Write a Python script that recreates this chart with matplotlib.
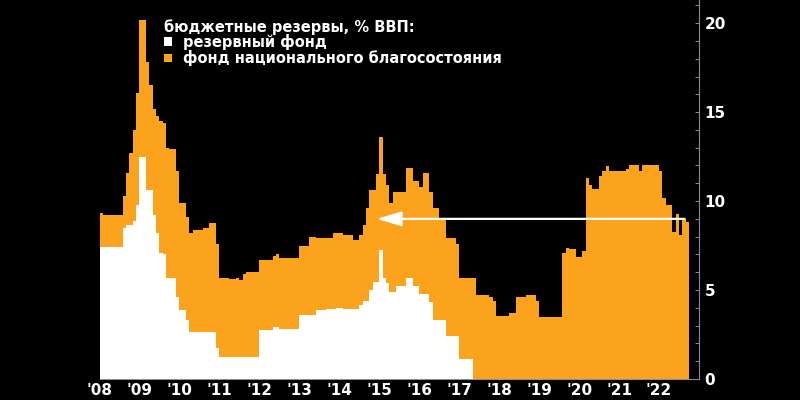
import numpy as np
import pandas as pd
import matplotlib
matplotlib.use("Agg")
import matplotlib.pyplot as plt
from matplotlib.patches import Rectangle
from matplotlib.ticker import MultipleLocator, FixedLocator

# monthly values, % of GDP, starting January 2008
START_MONTH = "2008-01"

# reserve fund + national wealth fund (total height of the stack)
total_reserves = [
    9.35, 9.2, 9.2, 9.2, 9.2, 9.2, 9.2, 10.3, 11.6, 12.7, 14.0, 16.1,        # 2008
    20.2, 20.2, 17.8, 16.5, 15.2, 14.8, 14.5, 14.4, 13.0, 12.9, 12.9, 11.7,  # 2009
    9.9, 9.9, 9.1, 8.2, 8.4, 8.4, 8.4, 8.5, 8.5, 8.75, 8.75, 7.6,            # 2010
    5.7, 5.7, 5.7, 5.6, 5.6, 5.65, 5.55, 5.9, 6.0, 6.0, 6.0, 6.0,            # 2011
    6.7, 6.7, 6.7, 6.7, 6.9, 7.0, 6.8, 6.8, 6.8, 6.8, 6.8, 6.8,              # 2012
    7.5, 7.5, 7.5, 8.0, 8.0, 7.9, 7.9, 7.9, 7.9, 7.9, 8.2, 8.2,              # 2013
    8.2, 8.1, 8.1, 8.1, 7.8, 7.8, 8.1, 8.65, 9.6, 10.6, 10.6, 11.5,          # 2014
    13.6, 11.5, 10.9, 9.9, 10.5, 10.5, 10.5, 10.5, 11.85, 11.85, 11.1, 11.1, # 2015
    10.8, 11.55, 11.55, 10.5, 9.6, 9.6, 9.0, 9.0, 7.9, 7.9, 7.9, 7.6,        # 2016
    5.7, 5.7, 5.7, 5.7, 5.7, 4.7, 4.7, 4.7, 4.7, 4.6, 4.4, 3.55,             # 2017
    3.55, 3.55, 3.55, 3.7, 3.7, 4.6, 4.6, 4.6, 4.7, 4.7, 4.7, 4.4,           # 2018
    3.5, 3.5, 3.5, 3.5, 3.5, 3.5, 3.5, 7.1, 7.35, 7.3, 7.3, 6.85,            # 2019
    6.85, 7.2, 11.3, 10.9, 10.7, 10.7, 11.4, 11.7, 11.95, 11.7, 11.7, 11.7,  # 2020
    11.7, 11.7, 11.8, 12.0, 12.0, 12.0, 11.7, 12.0, 12.0, 12.0, 12.0, 12.0,  # 2021
    11.7, 10.2, 9.8, 9.8, 8.25, 9.3, 8.1, 9.0, 8.85,                         # 2022
]

# reserve fund alone (white), until it was used up in 2017
reserve_fund = [
    7.4, 7.4, 7.4, 7.4, 7.4, 7.4, 7.4, 8.5, 8.65, 8.65, 8.9, 9.8,            # 2008
    12.5, 12.5, 10.6, 10.6, 9.2, 8.2, 7.1, 7.0, 5.7, 5.7, 5.7, 4.6,          # 2009
    3.9, 3.9, 3.3, 2.65, 2.65, 2.65, 2.65, 2.65, 2.65, 2.65, 2.65, 1.75,     # 2010
    1.25, 1.25, 1.25, 1.25, 1.25, 1.25, 1.25, 1.25, 1.25, 1.25, 1.25, 1.25,  # 2011
    2.75, 2.75, 2.75, 2.75, 2.9, 2.9, 2.8, 2.8, 2.8, 2.8, 2.8, 2.8,          # 2012
    3.6, 3.6, 3.6, 3.6, 3.6, 3.9, 3.9, 3.9, 3.95, 3.95, 3.95, 4.0,           # 2013
    4.0, 3.95, 3.95, 3.95, 3.95, 3.95, 4.15, 4.4, 4.4, 5.0, 5.45, 5.45,      # 2014
    7.25, 5.7, 5.4, 4.9, 4.9, 5.2, 5.2, 5.2, 5.7, 5.7, 5.2, 5.2,             # 2015
    4.8, 4.75, 4.75, 4.3, 3.3, 3.3, 3.3, 3.3, 2.4, 2.4, 2.4, 2.4,            # 2016
    1.1, 1.1, 1.1, 1.1,                                                      # 2017
]

# arrow showing that today's level equals the 2015 level
arrow_level = 9.0
arrow_from_year = 2022.64
arrow_to_year = 2014.94

year_ticks = list(range(2008, 2023))
year_labels = [f"'{y % 100:02d}" for y in year_ticks]
value_ticks = [0, 5, 10, 15, 20]

legend_title = "бюджетные резервы, % ВВП:"
legend_labels = ["резервный фонд", "фонд национального благосостояния"]

ORANGE = "#FBA31C"
WHITE = "#FFFFFF"
GREY = "#8C8C8C"


def month_edges(values):
    '''
    Returns decimal-year edges of monthly steps, one more than values.
    '''
    dates = pd.date_range(START_MONTH, periods=len(values) + 1, freq="MS")
    return dates.year + (dates.month - 1) / 12


def plot_reserves(ax):
    '''
    Draws the stacked step areas and the arrow.
    '''

    # 1: Total reserves in orange, reserve fund in white on top
    x_total = month_edges(total_reserves)
    ax.fill_between(x_total, list(total_reserves) + [total_reserves[-1]],
                    step="post", color=ORANGE, linewidth=0, zorder=2)

    x_rf = month_edges(reserve_fund)
    ax.fill_between(x_rf, list(reserve_fund) + [reserve_fund[-1]],
                    step="post", color=WHITE, linewidth=0, zorder=3)

    # 2: Arrow back to 2015
    ax.annotate(
        "",
        xy=(arrow_to_year, arrow_level),
        xytext=(arrow_from_year, arrow_level),
        arrowprops=dict(arrowstyle="-|>,head_length=1.5,head_width=0.45",
                        mutation_scale=10, color=WHITE, lw=1.6,
                        shrinkA=0, shrinkB=0),
        zorder=5,
    )


def style_axes(ax):
    '''
    Black background, right hand value axis, short year labels.
    '''
    ax.set_facecolor("black")
    ax.set_xlim(2008.0, 2023.0)
    ax.set_ylim(0, 21.3)

    for side in ["top", "left"]:
        ax.spines[side].set_visible(False)
    for side in ["right", "bottom"]:
        ax.spines[side].set_color(GREY)
        ax.spines[side].set_linewidth(0.8)
        ax.spines[side].set_zorder(1)

    ax.yaxis.tick_right()
    ax.yaxis.set_major_locator(FixedLocator(value_ticks))
    ax.yaxis.set_minor_locator(MultipleLocator(1))
    ax.tick_params(axis="y", which="both", direction="in", length=3,
                   width=0.7, color=GREY, labelcolor="white", labelsize=11,
                   pad=4)
    for label in ax.get_yticklabels():
        label.set_fontweight("bold")

    ax.set_xticks(year_ticks)
    ax.set_xticklabels(year_labels, fontweight="bold")
    ax.tick_params(axis="x", direction="in", length=3, width=0.6,
                   color="#DDDDDD", labelcolor="white", labelsize=11, pad=3)
    for tick in ax.xaxis.get_major_ticks():
        tick.tick1line.set_zorder(4)


def add_legend(fig):
    '''
    Text legend in the upper left corner, placed in figure pixels.
    '''
    W, H = 800, 400
    fig.text(164 / W, 1 - 27 / H, legend_title, color="white",
             fontsize=10.5, fontweight="bold", va="center", ha="left")
    colors = [WHITE, ORANGE]
    for i, (label, color) in enumerate(zip(legend_labels, colors)):
        yc = 41.5 + i * 16.5
        fig.add_artist(Rectangle((164 / W, 1 - (yc + 4) / H), 8 / W, 8 / H,
                                 transform=fig.transFigure, color=color,
                                 linewidth=0))
        fig.text(183 / W, 1 - yc / H, label, color="white", fontsize=10.5,
                 fontweight="bold", va="center", ha="left")


fig = plt.figure(figsize=(8, 4), dpi=100, facecolor="black")
ax = fig.add_axes([99.5 / 800, 21 / 400, 599.5 / 800, 379 / 400])
plot_reserves(ax)
style_axes(ax)
add_legend(fig)

fig.savefig("out.png", dpi=100, facecolor="black")
plt.close(fig)
